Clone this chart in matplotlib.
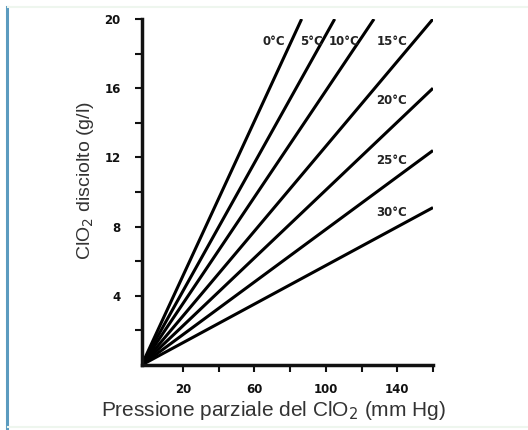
import matplotlib
matplotlib.use("Agg")
import matplotlib.pyplot as plt
from matplotlib.lines import Line2D

# Data (end points of straight lines from the origin)
temps = ["0°C", "5°C", "10°C", "15°C", "20°C", "25°C", "30°C"]
x_start = -3.0
x_end = [86.5, 105.0, 127.0, 160.0, 160.0, 160.0, 160.0]
y_end = [20.0, 20.0, 20.0, 20.0, 16.0, 12.4, 9.1]
label_x = [71.0, 92.0, 110.0, 137.0, 137.0, 137.0, 137.0]
label_y = [18.7, 18.7, 18.7, 18.7, 15.3, 11.8, 8.8]

x_ticks = [20, 40, 60, 80, 100, 120, 140, 160]
x_ticklabels = ["20", "", "60", "", "100", "", "140", ""]
y_ticks = [2, 4, 6, 8, 10, 12, 14, 16, 18, 20]
y_ticklabels = ["", "4", "", "8", "", "12", "", "16", "", "20"]

fig = plt.figure(figsize=(5.28, 4.30), dpi=100)
fig.patch.set_facecolor("white")

# decorative frame: blue left bar, faint top/bottom lines
fig.add_artist(Line2D([6.5/528, 6.5/528], [1 - 7/430, 1 - 428/430],
                      transform=fig.transFigure, color="#5b9bbf", lw=2.2))
fig.add_artist(Line2D([8/528, 1.0], [1 - 7/430, 1 - 7/430],
                      transform=fig.transFigure, color="#eef6ee", lw=1.5))
fig.add_artist(Line2D([8/528, 1.0], [1 - 427/430, 1 - 427/430],
                      transform=fig.transFigure, color="#eef6ee", lw=1.5))

ax = fig.add_axes([141.7/528, 1 - 365/430, (433 - 141.7)/528, (365 - 19)/430])
ax.set_xlim(x_start, 160)
ax.set_ylim(0, 20)

for t, xe, ye, lx, ly in zip(temps, x_end, y_end, label_x, label_y):
    ax.plot([x_start, xe], [0, ye], color="black", lw=2.2, solid_capstyle="butt")
    ax.text(lx, ly, t, ha="center", va="center", fontsize=8.5,
            fontweight="semibold", color="#222222", family="DejaVu Sans")

for s in ["top", "right"]:
    ax.spines[s].set_visible(False)
for s in ["left", "bottom"]:
    ax.spines[s].set_linewidth(2.5)
    ax.spines[s].set_color("#111111")

ax.set_xticks(x_ticks)
ax.set_xticklabels(x_ticklabels)
ax.set_yticks(y_ticks)
ax.set_yticklabels(y_ticklabels)
ax.tick_params(axis="both", direction="out", length=5, width=1.5,
               labelsize=8.5, colors="#111111")
for lab in ax.get_xticklabels() + ax.get_yticklabels():
    lab.set_fontweight("semibold")
ax.tick_params(axis="y", pad=10)
ax.tick_params(axis="x", pad=8)

fig.text(85/528, 1 - 181/430, "ClO$_2$ disciolto (g/l)", rotation=90,
         ha="center", va="center", fontsize=14, color="#333333",
         family="Liberation Sans")
fig.text(273/528, 1 - 410/430, "Pressione parziale del ClO$_2$ (mm Hg)",
         ha="center", va="center", fontsize=15, color="#333333",
         family="Liberation Sans")

fig.savefig("out.png", dpi=100, facecolor="white")
